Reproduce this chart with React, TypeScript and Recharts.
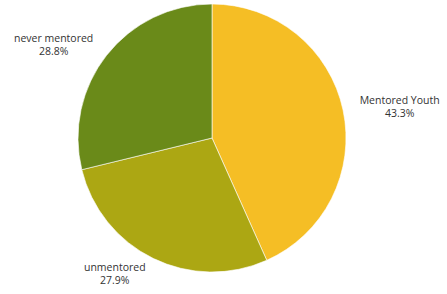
import { PieChart, Pie, Cell } from 'recharts'

const groups = ['Mentored Youth', 'unmentored', 'never mentored']
const shares = [43.3, 27.9, 28.8]
const colors = ['#F5BE25', '#ACA713', '#6A8A19']

const data = groups.map((name, i) => ({ name, value: shares[i] }))

const FONT = '10.5px "Open Sans", sans-serif'
let ctx: CanvasRenderingContext2D | null = null
function textWidth(s: string) {
  if (!ctx) ctx = document.createElement('canvas').getContext('2d')
  if (!ctx) return s.length * 6
  ctx.font = FONT
  return ctx.measureText(s).width
}

// eslint-disable-next-line @typescript-eslint/no-explicit-any
function SliceLabel({ cx, cy, midAngle, outerRadius, name, value }: any) {
  const rad = (Math.PI / 180) * midAngle
  const r = outerRadius + 17
  const x = cx + r * Math.cos(rad)
  const y = cy - r * Math.sin(rad)
  const right = Math.cos(rad) >= 0
  const w = textWidth(name)
  const mid = right ? x + w / 2 : x - w / 2
  return (
    <text fill="#333" fontSize={10.5} fontFamily='"Open Sans", sans-serif' textAnchor="middle">
      <tspan x={mid} y={y - 6.5} dy="0.35em">{name}</tspan>
      <tspan x={mid} y={y + 6.5} dy="0.35em">{value.toFixed(1)}%</tspan>
    </text>
  )
}

export default function App() {
  return (
    <div style={{ position: 'absolute', left: 0, top: 0, width: 447, height: 294, background: '#fff' }}>
      <PieChart width={447} height={294} margin={{ top: 0, right: 0, bottom: 0, left: 0 }}>
        <Pie
          data={data}
          dataKey="value"
          nameKey="name"
          cx={212}
          cy={138}
          outerRadius={134}
          startAngle={90}
          endAngle={-270}
          stroke="#fff"
          strokeWidth={0.6}
          labelLine={false}
          label={<SliceLabel />}
          isAnimationActive={false}
        >
          {data.map((d, i) => <Cell key={d.name} fill={colors[i]} />)}
        </Pie>
      </PieChart>
    </div>
  )
}
